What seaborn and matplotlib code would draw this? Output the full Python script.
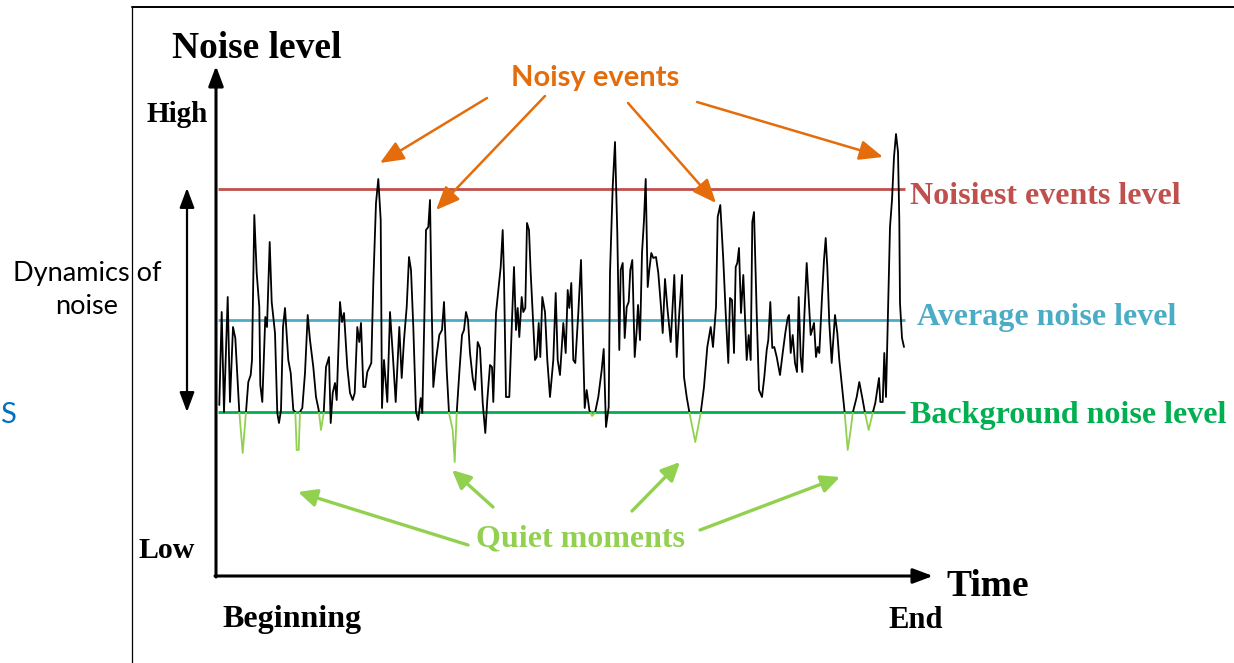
import numpy as np
import pandas as pd
import matplotlib
matplotlib.use("Agg")
import matplotlib.pyplot as plt
import seaborn as sns
from matplotlib.patches import Rectangle
from matplotlib.lines import Line2D

sns.set_style("white")
plt.rcParams["font.family"] = ["Liberation Serif", "DejaVu Sans"]
plt.rcParams["text.color"] = "black"

# ---------------- data ----------------
time_s = [
    3.3, 5.7, 8, 11.7, 14, 17, 19.3, 23.3, 26.7, 30,
    32.3, 34.7, 36, 38.3, 40.7, 43.3, 44.3, 46.3, 49.3, 51,
    53.7, 55.7, 59, 61.3, 63, 65, 67, 69, 72.3, 74.7,
    77.3, 79.3, 80.7, 82.7, 84, 86.3, 89, 91.7, 94, 97.3,
    100, 102.7, 105, 107.7, 110, 113, 114.7, 116.7, 119, 120.7,
    124, 126, 128, 131.3, 134, 136.7, 138.7, 141.3, 143.3, 145,
    147.3, 149.3, 151.3, 155.3, 157.3, 160, 162.3, 164.7, 166, 168,
    171.3, 174, 176.7, 179.7, 183.3, 185.7, 188, 190.7, 193, 195,
    197.3, 200, 202.3, 204.7, 206.3, 208.3, 210, 212.3, 214, 215.7,
    217.3, 220, 223.3, 226, 228, 230.7, 233, 236.7, 238.7, 240.7,
    243.3, 246, 248, 250, 252, 254, 256.7, 259, 261.7, 264,
    266.7, 269.3, 271.3, 274, 276, 277.3, 280, 282.7, 284.7, 286.7,
    288, 290, 293.3, 296, 298, 300, 301.7, 303.3, 305.7, 307.3,
    309.3, 311, 313, 314.7, 316.7, 319, 320.7, 322.7, 324.3, 326.3,
    329, 331.3, 334, 337.3, 339.7, 341.7, 344, 347.3, 349.7, 351.7,
    353.3, 355.3, 357.3, 359.3, 362.3, 365, 367.3, 368.7, 370.7, 373.3,
    376, 379, 382.3, 385.7, 387.7, 390, 392.7, 394, 396.7, 399,
    401.3, 403.3, 404.7, 406.7, 408.7, 410.7, 412.7, 414.3, 416.3, 418.7,
    420.7, 422, 424, 426, 428, 429.7, 431.7, 433.3, 435.3, 437.3,
    440, 442.3, 445, 446.7, 449, 451.3, 454.7, 458.3, 460.7, 463.3,
    466, 468, 470.7, 473.3, 479.3, 484.7, 488, 491.3, 494.7, 497,
    500, 501.7, 504.3, 507.3, 509.7, 512.3, 514, 516, 518, 519.7,
    521.3, 523, 525, 527.3, 530.7, 532.7, 534.7, 536.3, 538, 540.7,
    543, 546, 548.3, 550.7, 552.3, 554.3, 556.3, 558.3, 560.7, 564,
    566.7, 569.3, 571.7, 573, 574.7, 576.7, 579, 581, 582.7, 584.7,
    586.3, 588.3, 590.7, 592.7, 594.7, 596.7, 598, 600, 601.7, 603.3,
    606, 608, 609.7, 611.3, 613.3, 615.7, 619, 621.3, 623.3, 626.7,
    628.7, 631.7, 634.7, 636.7, 640.7, 643.3, 646.7, 649, 652.7, 656.7,
    659.3, 663, 664.3, 666.7, 668.3, 670, 672.3, 674, 676, 678,
    680, 682, 683.3, 684, 686, 688,
]
level = [
    171, 264, 164, 279, 174, 249, 238, 164, 123, 164,
    194, 201, 216, 361, 303, 269, 191, 174, 259, 249,
    334, 274, 243, 163, 153, 166, 249, 268, 216, 203,
    166, 164, 126, 126, 164, 168, 203, 261, 236, 209,
    179, 166, 146, 163, 209, 219, 153, 183, 193, 176,
    274, 254, 263, 209, 183, 176, 183, 249, 234, 253,
    189, 189, 204, 213, 293, 373, 397, 356, 168, 216,
    174, 264, 223, 174, 249, 198, 236, 269, 319, 306,
    249, 164, 156, 178, 163, 256, 346, 349, 376, 269,
    189, 216, 241, 246, 274, 206, 163, 146, 114, 163,
    203, 241, 246, 264, 256, 223, 198, 186, 234, 228,
    173, 143, 176, 211, 209, 174, 263, 289, 309, 346,
    299, 179, 179, 256, 309, 246, 268, 239, 279, 264,
    268, 353, 346, 303, 263, 216, 219, 253, 219, 279,
    264, 216, 179, 216, 283, 216, 201, 253, 223, 286,
    268, 293, 216, 213, 263, 316, 223, 168, 186, 166,
    160, 163, 179, 206, 227, 149, 169, 303, 389, 434,
    343, 226, 306, 313, 238, 269, 274, 306, 316, 219,
    246, 271, 236, 323, 356, 397, 289, 306, 323, 318,
    319, 303, 269, 243, 297, 269, 234, 301, 219, 263,
    301, 199, 179, 164, 134, 163, 189, 229, 249, 229,
    269, 359, 371, 316, 263, 213, 278, 276, 223, 309,
    313, 328, 263, 301, 216, 241, 216, 354, 364, 263,
    186, 179, 199, 226, 236, 274, 228, 229, 219, 201,
    223, 243, 258, 261, 223, 241, 213, 204, 279, 219,
    204, 259, 313, 276, 241, 248, 253, 219, 229, 223,
    279, 316, 338, 309, 253, 213, 261, 243, 216, 183,
    163, 126, 146, 163, 179, 194, 176, 163, 146, 163,
    173, 198, 174, 174, 223, 179, 279, 349, 376, 419,
    442, 424, 356, 273, 238, 229,
]
level_names = ["Noisiest events level", "Average noise level", "Background noise level"]
level_values = [387, 256, 164]
quiet_windows = [(22, 31), (76, 85), (101, 109), (232, 242),
                 (372, 380), (472, 486), (627, 638), (648, 658)]
noisy_peaks = [(164, 413), (220, 366), (500, 373), (667, 419)]
quiet_dips = [(82, 84), (236, 106), (464, 114), (624, 99)]

RED, BLUE, GREEN = "#C0504D", "#4BACC6", "#00B050"
LGREEN, ORANGE, DARKBLUE = "#92D050", "#E46C0A", "#0070C0"

df = pd.DataFrame({"time": time_s, "level": level})
bg = level_values[2]

fig = plt.figure(figsize=(12.34, 6.63), dpi=100)
ax = fig.add_axes([216 / 1234, 87 / 663, 690 / 1234, 511 / 663])
ax.set_xlim(0, 690)
ax.set_ylim(0, 511)
ax.axis("off")

# level lines and their labels
label_x = [694, 701, 694]
label_y = [380, 258, 160]
for name, val, col, lx, ly in zip(level_names, level_values, [RED, BLUE, GREEN], label_x, label_y):
    ax.hlines(val, 2, 689, color=col, lw=2.0, zorder=2)
    ax.text(lx, ly, name, color=col, fontsize=23, fontweight="bold",
            ha="left", va="center", clip_on=False)


def draw_signal(color, rect, z):
    n = len(ax.lines)
    sns.lineplot(data=df, x="time", y="level", ax=ax, color=color, lw=1.3,
                 sort=False, estimator=None, legend=False)
    ln = ax.lines[n]
    ln.set_zorder(z)
    ln.set_clip_path(Rectangle(rect[0], rect[1], rect[2], transform=ax.transData))


# black above background level
draw_signal("black", ((-10, bg), 720, 600), 3)
# black below background outside quiet windows
edges = [-10] + [v for w in quiet_windows for v in w] + [720]
for a, b in zip(edges[0::2], edges[1::2]):
    draw_signal("black", ((a, -50), b - a, bg + 50), 3)
# light-green quiet moments
for a, b in quiet_windows:
    draw_signal(LGREEN, ((a, -50), b - a, bg + 50), 3)

# axes arrows
ap = dict(arrowstyle="-|>,head_length=0.8,head_width=0.3", lw=2.2, color="black",
          mutation_scale=15, shrinkA=0, shrinkB=0)
ax.annotate("", xy=(0, 510), xytext=(0, -1), arrowprops=ap, annotation_clip=False)
ax.annotate("", xy=(717, 0), xytext=(-1, 0), arrowprops=ap, annotation_clip=False)
ax.annotate("", xy=(-29, 388), xytext=(-29, 164),
            arrowprops=dict(arrowstyle="<|-|>,head_length=0.8,head_width=0.3", lw=1.6,
                            color="black", mutation_scale=15, shrinkA=0, shrinkB=0),
            annotation_clip=False)

# noisy events arrows
noisy_tails = [(271, 478), (329, 480), (412, 473), (481, 474)]
for tail, head in zip(noisy_tails, noisy_peaks):
    ax.annotate("", xy=head, xytext=tail, annotation_clip=False,
                arrowprops=dict(arrowstyle="-|>,head_length=0.9,head_width=0.38", lw=1.8,
                                color=ORANGE, mutation_scale=16, shrinkA=0, shrinkB=0))
# quiet moments arrows
quiet_tails = [(252, 31), (277, 69), (416, 65), (484, 46)]
for tail, head in zip(quiet_tails, quiet_dips):
    ax.annotate("", xy=head, xytext=tail, annotation_clip=False,
                arrowprops=dict(arrowstyle="-|>,head_length=0.8,head_width=0.38", lw=2.4,
                                color=LGREEN, mutation_scale=14, shrinkA=0, shrinkB=0))

# texts
ax.text(41, 527, "Noise level", fontsize=27, fontweight="bold", ha="center", va="center")
ax.text(772, -10, "Time", fontsize=27, fontweight="bold", ha="center", va="center")
ax.text(-39, 462, "High", fontsize=21, fontweight="bold", ha="center", va="center")
ax.text(-49, 26, "Low", fontsize=21.5, fontweight="bold", ha="center", va="center")
ax.text(76, -44, "Beginning", fontsize=23, fontweight="bold", ha="center", va="center")
ax.text(700, -44, "End", fontsize=22, fontweight="bold", ha="center", va="center")
ax.text(364, 37, "Quiet moments", fontsize=23, fontweight="bold", color=LGREEN,
        ha="center", va="center")
ax.text(379, 498, "Noisy events", fontsize=21, fontweight="bold", color=ORANGE,
        ha="center", va="center", family=["Lato", "DejaVu Sans"])
ax.text(-129, 286, "Dynamics of\nnoise", fontsize=19.5, ha="center", va="center",
        linespacing=1.38, family=["Lato", "DejaVu Sans"])
ax.text(-208, 161, "S", fontsize=21, color=DARKBLUE, ha="center", va="center",
        family=["Lato", "DejaVu Sans"])

# slide frame lines
fig.add_artist(Line2D([132 / 1234, 132 / 1234], [0, 1 - 7 / 663], transform=fig.transFigure,
                      color="black", lw=0.9))
fig.add_artist(Line2D([132 / 1234, 1], [1 - 7 / 663, 1 - 7 / 663], transform=fig.transFigure,
                      color="black", lw=1.4))

fig.savefig("out.png", dpi=100)
